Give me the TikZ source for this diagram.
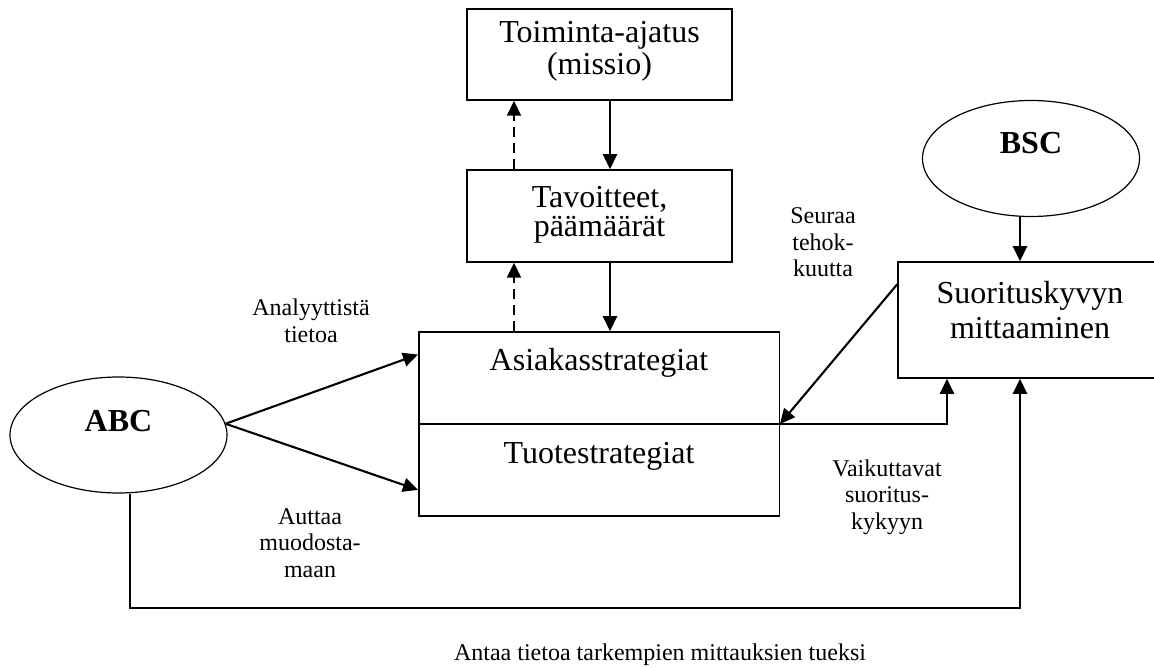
\documentclass[tikz,border=0pt]{standalone}
\usepackage{fontspec}
\setmainfont{Liberation Serif}
\usetikzlibrary{arrows.meta,shapes.geometric,calc}

\begin{document}
\begin{tikzpicture}[x=1pt,y=-1pt,
  box/.style={draw,line width=1.5pt,inner sep=0pt,align=center},
  oval/.style={draw,ellipse,line width=1.2pt,inner sep=0pt,minimum width=217pt,minimum height=116pt,
    font=\fontsize{32}{32}\selectfont\bfseries,text height=22pt},
  note/.style={align=center,anchor=base,inner sep=0pt,font=\fontsize{24}{26.5}\selectfont},
  conn/.style={line width=2.1pt,-{Triangle[length=15pt,width=14pt]}},
  back/.style={conn,dash pattern=on 10pt off 6pt}
]
\useasboundingbox (0,0) rectangle (1154,668);
\fill[white] (0,0) rectangle (1154,668);

% boxes (text height/depth place the last baseline inside each box)
\node[box,minimum width=265pt,minimum height=91pt,text height=54pt,text depth=13pt,
      font=\fontsize{32}{32}\selectfont] (toim) at (599.5,54.5) {Toiminta-ajatus\\(missio)};
\node[box,minimum width=265pt,minimum height=92pt,text height=51pt,text depth=9pt,
      font=\fontsize{32}{29}\selectfont] (tav) at (599.5,216) {Tavoitteet,\\päämäärät};
\node[box,minimum width=360.5pt,minimum height=184pt,text height=115pt,text depth=37pt,
      font=\fontsize{32}{32}\selectfont] (strat) at (599,424) {Asiakasstrategiat\\[61pt]Tuotestrategiat};
\node[box,minimum width=264pt,minimum height=116pt,text height=57pt,text depth=21pt,
      font=\fontsize{32}{35}\selectfont] (suor) at (1030,320) {Suorituskyvyn\\mittaaminen};
\draw[line width=1.5pt] (strat.west) -- (strat.east);

% ellipses
\node[oval,text depth=30pt] (abc) at (118.5,435) {ABC};
\node[oval,text depth=31pt] (bsc) at (1031,158.5) {BSC};

% helper positions
\coordinate (solidx) at (610,0);
\coordinate (dashx) at (514,0);
\coordinate (abcx) at (130,608);
\coordinate (bottomx) at (1020,608);
\coordinate (upx) at (947,0);

% vertical chain
\draw[conn] (toim.south -| solidx) -- (tav.north -| solidx);
\draw[conn] (tav.south -| solidx) -- (strat.north -| solidx);
\draw[back] (strat.north -| dashx) -- (tav.south -| dashx);
\draw[back] (tav.north -| dashx) -- (toim.south -| dashx);

% ABC connections
\draw[conn] (abc.6) -- (strat.159.97);
\draw[conn] (abc.6) -- (strat.200.6);
\draw[conn] (abc.south -| abcx) -- (abcx) -- (bottomx) -- (bottomx |- suor.south);

% BSC and performance measurement
\draw[conn] (bsc.south -| bottomx) -- (bottomx |- suor.north);
\draw[conn] ($(suor.north west)+(0,23)$) -- (strat.east);
\draw[conn] (strat.east) -| (upx |- suor.south);

% labels (anchored at the baseline of their last line)
\node[note] (lab1) at (311,342) {Analyyttistä\\tietoa};
\node[note] (lab2) at (310,577) {Auttaa\\muodosta-\\maan};
\node[note] (lab3) at (823,277) {Seuraa\\tehok-\\kuutta};
\node[note] (lab4) at (887,529) {Vaikuttavat\\suoritus-\\kykyyn};
\node[note] (lab5) at (660,660) {Antaa tietoa tarkempien mittauksien tueksi};
\end{tikzpicture}
\end{document}
